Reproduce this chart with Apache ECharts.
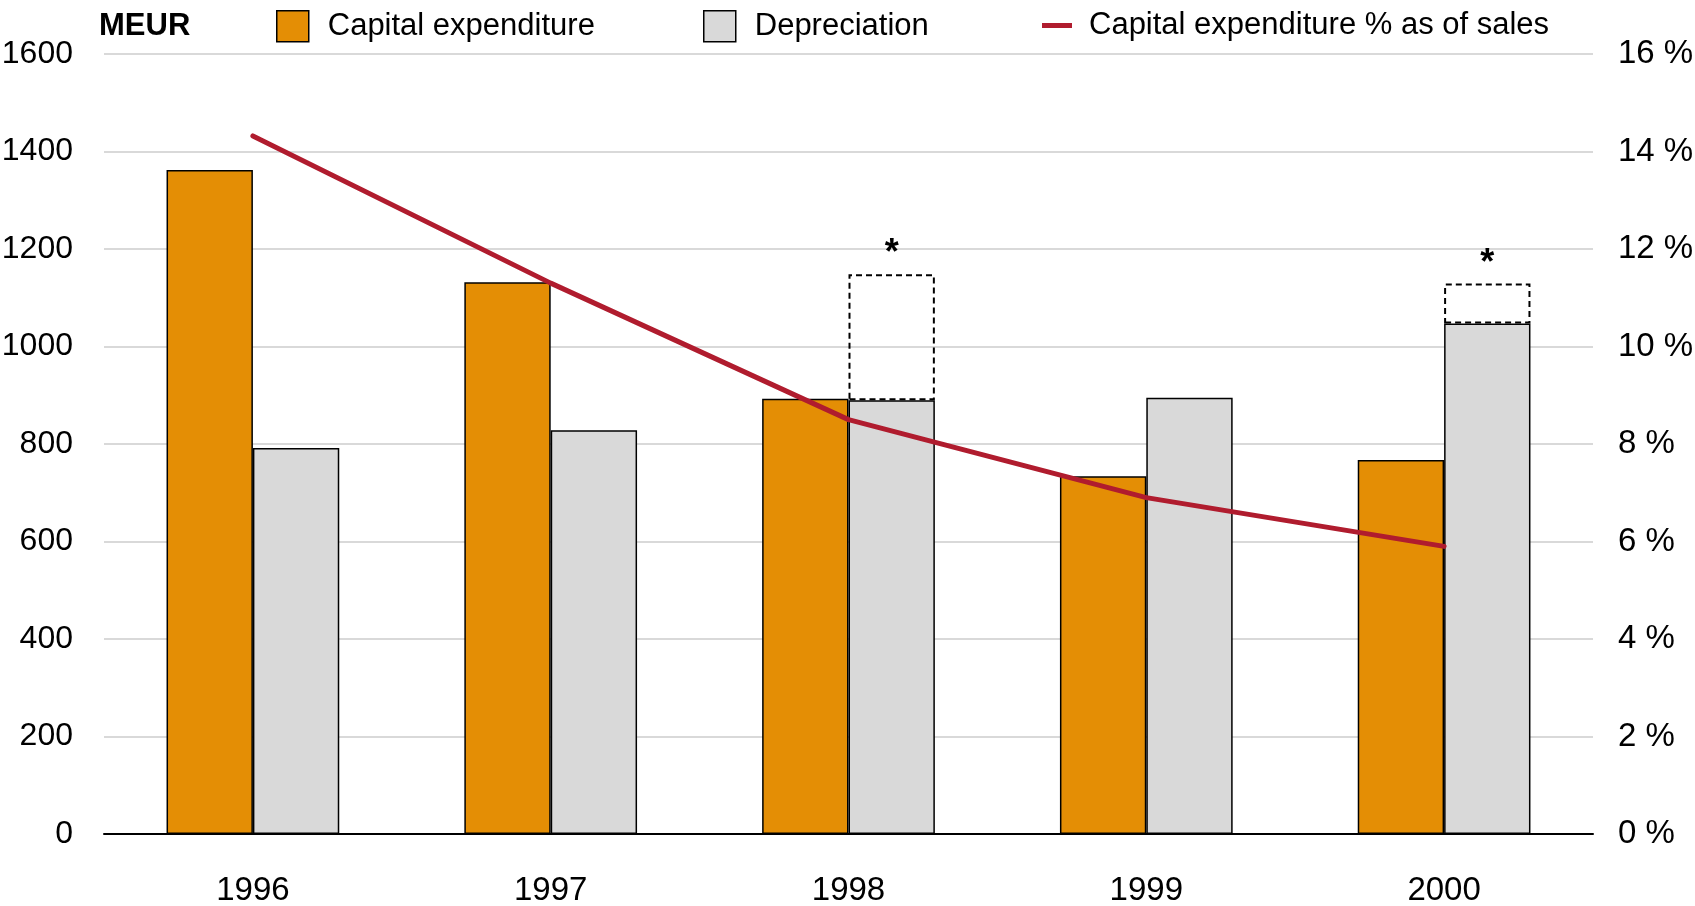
<!DOCTYPE html>
<html><head><meta charset="utf-8">
<script src="https://cdn.jsdelivr.net/npm/echarts@6/dist/echarts.min.js"></script>
<style>html,body{margin:0;padding:0;background:#fff}#c{width:1695px;height:906px}</style>
</head><body><div id="c"></div>
<script>
const categories = ['1996', '1997', '1998', '1999', '2000'];
const capex = [1362, 1132, 893, 734, 767];
const depreciation = [792, 828, 890, 895, 1047];
const outlineTop = [null, null, 1148, null, 1129];
const pctOfSales = [14.32, 11.3, 8.5, 6.9, 5.9];
const leftTicks = { min: 0, max: 1600, interval: 200 };
const rightTicks = { min: 0, max: 16, interval: 2 };

const FONT = "'Liberation Sans', Arial, sans-serif";
const extra = outlineTop.map((v, i) => v == null ? null : v - depreciation[i]);

const chart = echarts.init(document.getElementById('c'));
chart.setOption({
  animation: false,
  backgroundColor: '#fff',
  textStyle: { fontFamily: FONT },
  graphic: [{ type: 'text', left: 99, top: 11, style: { text: 'MEUR', font: "bold 31px " + FONT, fill: '#000' } }],
  legend: [
    { data: ['Capital expenditure'], left: 271, top: 5, icon: 'rect', itemWidth: 32, itemHeight: 31,
      itemStyle: { borderColor: '#000', borderWidth: 1.5 },
      textStyle: { fontSize: 31, fontFamily: FONT, color: '#000', padding: [0, 0, 0, 14] } },
    { data: ['Depreciation'], left: 698, top: 5, icon: 'rect', itemWidth: 32, itemHeight: 31,
      itemStyle: { borderColor: '#000', borderWidth: 1.5 },
      textStyle: { fontSize: 31, fontFamily: FONT, color: '#000', padding: [0, 0, 0, 14] } },
    { data: ['Capital expenditure % as of sales'], left: 1037, top: 5, itemWidth: 30, itemHeight: 31, icon: 'path://M0,13H30V18H0Z',
      itemStyle: { borderWidth: 0 },
      textStyle: { fontSize: 31, fontFamily: FONT, color: '#000', padding: [0, 0, 0, 12] } }
  ],
  grid: { left: 104, right: 102, top: 54, bottom: 72, outerBoundsMode: 'none', containLabel: false },
  xAxis: {
    type: 'category', data: categories,
    axisLine: { lineStyle: { color: '#000', width: 2 } },
    axisTick: { show: false },
    axisLabel: { fontSize: 33, color: '#000', fontFamily: FONT, margin: 40 }
  },
  yAxis: [
    { type: 'value', min: leftTicks.min, max: leftTicks.max, interval: leftTicks.interval,
      axisLine: { show: false }, axisTick: { show: false },
      axisLabel: { fontSize: 32, color: '#000', fontFamily: FONT, margin: 31, formatter: v => String(v) },
      splitLine: { lineStyle: { color: '#d9d9d9', width: 2 } } },
    { type: 'value', min: rightTicks.min, max: rightTicks.max, interval: rightTicks.interval,
      axisLine: { show: false }, axisTick: { show: false },
      axisLabel: { fontSize: 33, color: '#000', fontFamily: FONT, margin: 25, formatter: v => v + ' %' },
      splitLine: { show: false } }
  ],
  series: [
    { name: 'Capital expenditure', type: 'bar', stack: 'a', data: capex, barGap: '0%', barCategoryGap: '42%',
      itemStyle: { color: '#e48e05', borderColor: '#000', borderWidth: 1.5 } },
    { name: 'Depreciation', type: 'bar', stack: 'b', data: depreciation,
      itemStyle: { color: '#d9d9d9', borderColor: '#000', borderWidth: 1.5 } },
    { name: 'outline', type: 'bar', stack: 'b', data: extra,
      itemStyle: { color: 'rgba(255,255,255,0)', borderColor: '#000', borderWidth: 2, borderType: [6, 4] },
      label: { show: true, position: 'top', formatter: '*', fontSize: 36, fontWeight: 'bold', color: '#000', distance: 2 } },
    { name: 'Capital expenditure % as of sales', type: 'line', yAxisIndex: 1, data: pctOfSales,
      symbol: 'none', z: 5,
      lineStyle: { color: '#b01c2e', width: 5, cap: 'round' }, itemStyle: { color: '#b01c2e' } }
  ]
});
</script></body></html>
